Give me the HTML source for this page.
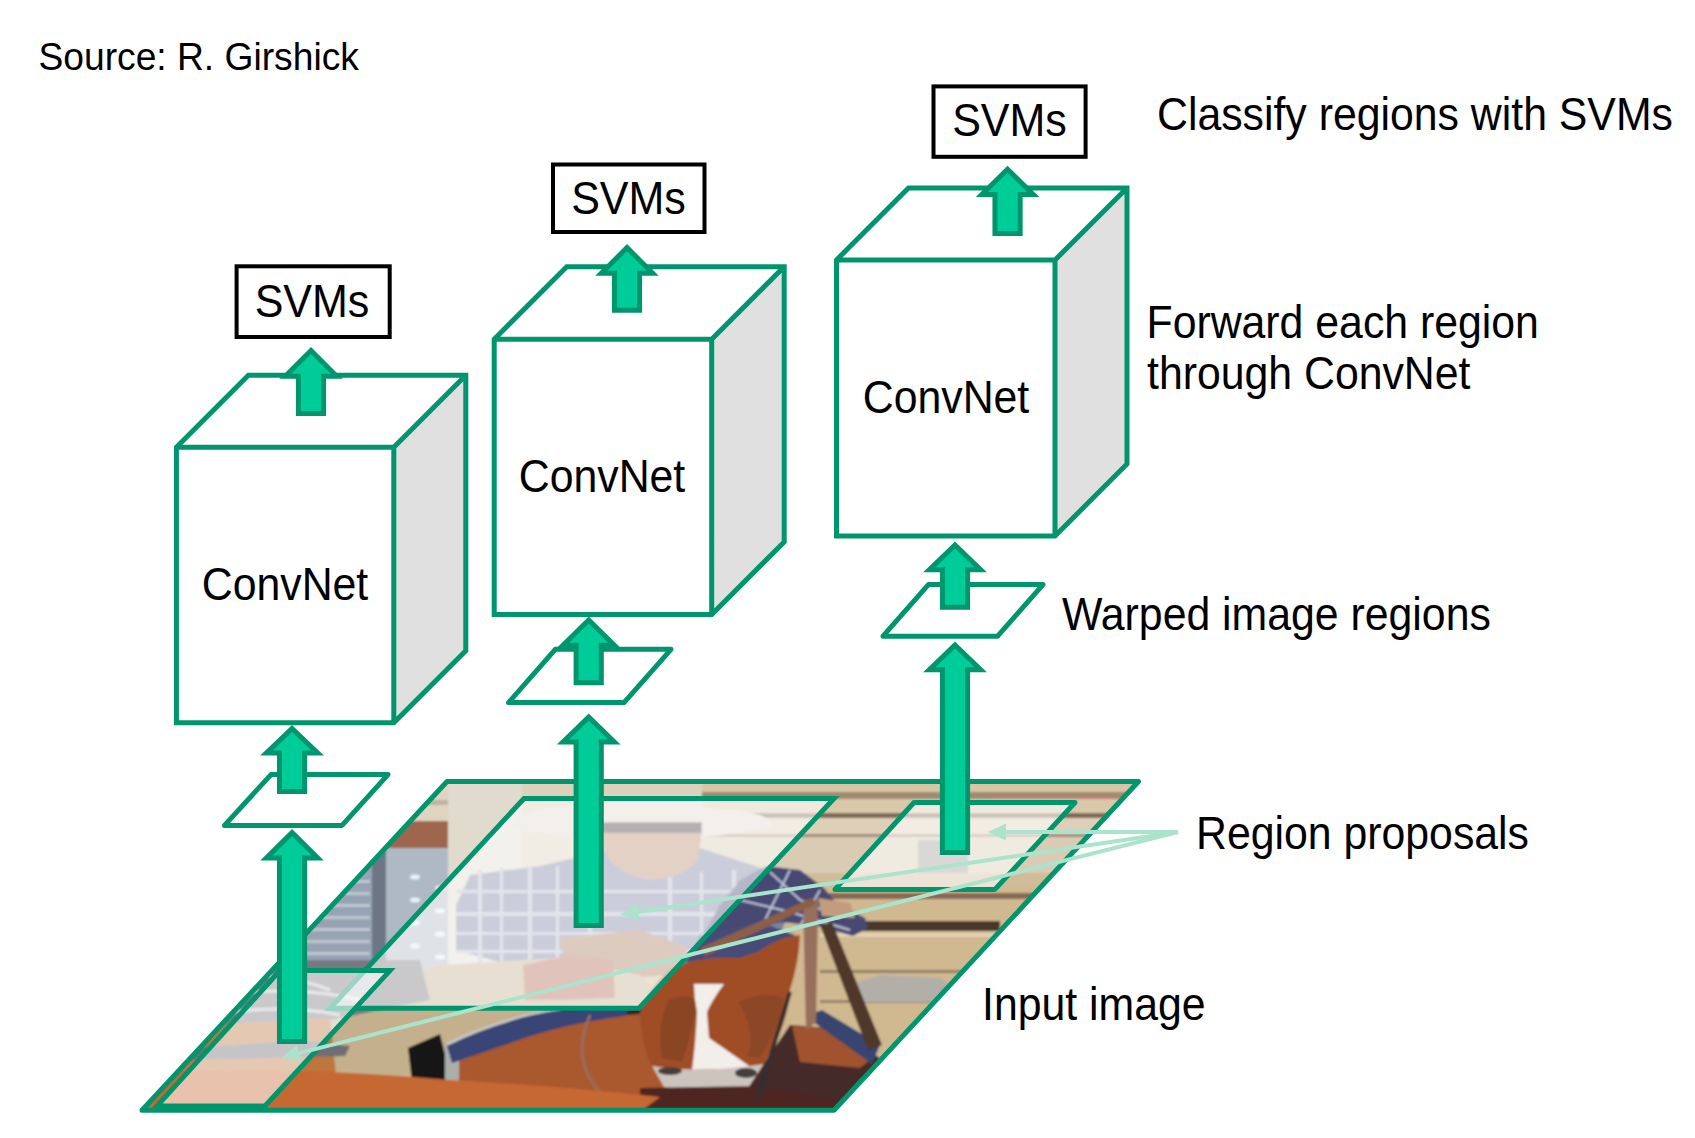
<!DOCTYPE html>
<html><head><meta charset="utf-8"><style>
html,body{margin:0;padding:0;background:#fff;overflow:hidden;}
svg{display:block;}
</style></head><body>
<svg width="1695" height="1138" viewBox="0 0 1695 1138">
<rect width="1695" height="1138" fill="#fff"/>
<defs><clipPath id="imgclip"><polygon points="447,781.5 1138.5,781.5 834,1110.3 142,1110.3"/></clipPath><filter id="soft" x="-5%" y="-5%" width="110%" height="110%"><feGaussianBlur stdDeviation="1.2"/></filter></defs>
<g clip-path="url(#imgclip)"><g filter="url(#soft)">
<rect x="140" y="780" width="1000" height="332" fill="rgb(208,184,144)"/>
<!-- fence bands right -->
<rect x="520" y="781" width="620" height="12" fill="rgb(214,198,166)"/>
<rect x="700" y="792" width="440" height="7" fill="rgb(160,138,112)"/>
<rect x="990" y="797" width="150" height="3" fill="rgb(200,120,110)"/>
<rect x="700" y="799" width="440" height="14" fill="rgb(218,200,170)"/>
<rect x="700" y="813" width="440" height="5" fill="rgb(125,105,85)"/>
<rect x="700" y="818" width="440" height="16" fill="rgb(222,208,184)"/>
<rect x="700" y="834" width="440" height="3" fill="rgb(160,140,120)"/>
<rect x="700" y="837" width="440" height="36" fill="rgb(218,204,180)"/>
<rect x="918" y="840" width="50" height="35" fill="rgb(160,158,155)"/>
<rect x="700" y="873" width="440" height="15" fill="rgb(208,188,152)"/>
<rect x="700" y="893" width="440" height="6" fill="rgb(135,105,85)"/>
<rect x="860" y="921" width="140" height="10" fill="rgb(70,55,42)"/>
<rect x="820" y="933" width="320" height="4" fill="rgb(228,210,180)"/>
<rect x="820" y="970" width="320" height="3" fill="rgb(145,128,105)"/>
<rect x="820" y="1000" width="320" height="3" fill="rgb(150,132,110)"/>
<polygon points="850,985 880,975 940,978 960,990 940,1002 860,1002" fill="rgb(178,175,168)"/>
<!-- left planks, brown band, gate -->
<rect x="140" y="781" width="308" height="40" fill="rgb(222,212,192)"/>
<rect x="140" y="800" width="308" height="5" fill="rgb(190,180,160)"/>
<rect x="140" y="821" width="308" height="27" fill="rgb(158,102,78)"/>
<rect x="140" y="848" width="308" height="160" fill="rgb(150,163,178)"/>
<g fill="rgb(190,200,210)"><rect x="140" y="880" width="230" height="3"/><rect x="140" y="892" width="230" height="3"/><rect x="140" y="904" width="230" height="3"/><rect x="140" y="916" width="230" height="3"/><rect x="140" y="928" width="230" height="3"/><rect x="140" y="940" width="230" height="3"/><rect x="140" y="952" width="230" height="3"/></g>
<rect x="372" y="848" width="14" height="160" fill="rgb(108,118,132)"/>
<rect x="386" y="848" width="62" height="160" fill="rgb(175,185,196)"/>
<g fill="rgb(235,240,245)"><ellipse cx="415" cy="877" rx="5" ry="2.5"/><ellipse cx="415" cy="900" rx="5" ry="2.5"/><ellipse cx="415" cy="923" rx="5" ry="2.5"/><ellipse cx="415" cy="946" rx="5" ry="2.5"/><ellipse cx="440" cy="888" rx="5" ry="2.5"/><ellipse cx="440" cy="911" rx="5" ry="2.5"/><ellipse cx="440" cy="934" rx="5" ry="2.5"/><ellipse cx="440" cy="957" rx="5" ry="2.5"/></g>
<!-- pole -->
<rect x="448" y="781" width="74" height="230" fill="rgb(224,219,205)"/>
<!-- center top planks behind cowboy -->
<rect x="522" y="781" width="180" height="90" fill="rgb(220,210,188)"/>
<!-- hat -->
<path d="M510,828 Q520,806 585,806 L590,796 L700,796 L705,808 Q770,810 772,826 Q700,842 640,838 Q560,840 510,828 Z" fill="rgb(225,218,206)"/>
<!-- shirt plaid -->
<polygon points="456,905 470,875 540,866 600,852 640,850 700,848 768,870 790,910 770,960 650,968 520,968 456,950" fill="rgb(125,130,162)"/>
<g fill="rgb(185,188,208)">
<rect x="478" y="870" width="4" height="95"/><rect x="500" y="868" width="3" height="97"/><rect x="528" y="868" width="4" height="97"/><rect x="556" y="866" width="3" height="99"/><rect x="588" y="866" width="4" height="99"/>
<rect x="668" y="872" width="4" height="93"/><rect x="700" y="872" width="3" height="93"/><rect x="732" y="870" width="4" height="95"/><rect x="758" y="870" width="3" height="95"/>
<rect x="456" y="890" width="320" height="3"/><rect x="456" y="912" width="320" height="4"/><rect x="456" y="932" width="320" height="3"/><rect x="456" y="950" width="320" height="3"/>
</g>
<!-- face -->
<path d="M603,830 L702,830 L698,860 Q680,880 650,880 Q615,874 603,850 Z" fill="rgb(185,140,112)"/>
<rect x="598" y="822" width="104" height="11" fill="rgb(70,60,60)"/>
<!-- dark arm (not whitened) -->
<polygon points="700,940 735,932 782,922 818,926 853,936 868,928 865,918 836,903 824,888 800,870 766,866 740,880 720,905" fill="rgb(70,74,115)"/>
<g stroke="rgb(190,195,215)" stroke-width="2" fill="none"><path d="M770,872 L800,900 L840,918"/><path d="M740,900 L790,912 L850,930"/><path d="M790,870 L760,930"/><path d="M820,890 L800,926"/></g>
<!-- hands & rope -->
<polygon points="560,938 640,930 690,948 670,975 600,980 565,965" fill="rgb(170,125,95)"/>
<polygon points="818,898 850,903 855,918 822,916" fill="rgb(195,155,125)"/>
<!-- saddle & pants tan -->
<polygon points="330,1008 380,985 440,965 560,958 640,975 660,1000 650,1010 560,1010 470,1040 420,1075 320,1075" fill="rgb(196,176,140)"/>
<polygon points="523,965 570,955 613,960 615,998 560,1000 525,1000" fill="rgb(178,108,84)"/>
<!-- gray streaky mane left -->
<polygon points="140,960 420,960 430,1000 330,1020 140,1030" fill="rgb(120,120,128)"/>
<g stroke="rgb(200,200,205)" stroke-width="3" fill="none"><path d="M200,975 Q280,970 330,990"/><path d="M220,995 Q300,985 360,1000"/><path d="M230,1012 Q290,1005 340,1015"/></g>
<!-- lower-left orange (whitened later) -->
<polygon points="140,1028 330,1018 340,1112 140,1112" fill="rgb(190,118,62)"/>
<polygon points="190,1048 300,1040 350,1046 345,1056 190,1060" fill="rgb(110,110,115)"/>
<!-- brown horse body center -->
<polygon points="455,1060 520,1030 600,1010 660,1010 700,1050 720,1112 455,1112" fill="rgb(170,88,45)"/>
<!-- black patch -->
<polygon points="408,1048 440,1034 452,1082 412,1082" fill="rgb(25,20,20)"/>
<rect x="445" y="1045" width="14" height="36" fill="rgb(170,175,170)"/>
<!-- navy pad -->
<path d="M455,1046 Q520,1013 560,1008 L660,1008 L640,1014 Q560,1018 470,1052 Z" fill="rgb(40,35,40)"/>
<path d="M447,1046 Q500,1020 560,1010 L630,1008 L625,1016 Q560,1024 505,1045 L452,1063 Z" fill="rgb(55,68,118)"/>
<path d="M447,1044 Q500,1018 560,1009" stroke="rgb(200,205,215)" stroke-width="2" fill="none"/>
<!-- reins left -->
<path d="M590,1015 Q570,1060 600,1092" stroke="rgb(150,110,90)" stroke-width="3" fill="none"/>
<!-- horse head -->
<polygon points="686,962 700,935 760,922 795,935 770,958" fill="rgb(70,76,120)"/>
<path d="M640,1012 Q650,985 672,968 Q700,955 740,958 L758,952 Q778,937 800,935 Q799,962 790,990 Q788,1025 765,1062 Q752,1086 706,1089 Q664,1085 652,1068 Q640,1040 640,1012 Z" fill="rgb(160,78,40)"/>
<path d="M668,1000 Q690,992 698,1002 Q690,1040 682,1062 L662,1058 Q656,1030 668,1000 Z" fill="rgb(138,68,36)"/>
<path d="M738,1002 Q765,990 784,998 Q778,1030 760,1058 L748,1056 Q756,1030 738,1002 Z" fill="rgb(140,70,38)"/>
<path d="M694,984 L724,984 Q712,1000 707,1012 L709,1038 Q735,1056 752,1068 L692,1070 Q696,1040 697,1012 Q694,998 694,984 Z" fill="rgb(242,238,234)"/>
<path d="M652,1066 Q700,1074 764,1064 Q760,1086 748,1089 Q700,1094 664,1087 Z" fill="rgb(205,196,190)"/>
<ellipse cx="670" cy="1071" rx="12" ry="4" fill="rgb(70,60,60)"/>
<ellipse cx="746" cy="1073" rx="11" ry="5" fill="rgb(70,60,60)"/>
<!-- dark neck right & bottom -->
<polygon points="765,1062 790,1025 830,1028 880,1058 890,1112 740,1112 748,1088" fill="rgb(68,44,42)"/>
<polygon points="792,1026 830,1028 875,1056 860,1068 800,1062" fill="rgb(160,82,46)"/>
<polygon points="640,1088 760,1086 840,1100 840,1112 640,1112" fill="rgb(78,40,34)"/>
<!-- navy pad right -->
<polygon points="805,1016 822,1010 880,1045 872,1064" fill="rgb(55,68,112)"/>
<!-- bridle -->
<path d="M790,992 Q775,1040 758,1100" stroke="rgb(50,45,50)" stroke-width="4" fill="none"/>
<!-- reins -->
<polygon points="803,900 818,900 816,1022 806,1030" fill="rgb(150,112,92)"/>
<polygon points="820,925 832,922 882,1045 868,1050" fill="rgb(80,55,42)"/>
<polygon points="700,948 812,898 816,904 705,956" fill="rgb(140,95,70)"/>
<!-- orange bottom band -->
<path d="M140,1072 Q300,1066 450,1080 Q560,1086 660,1097 L640,1112 L140,1112 Z" fill="rgb(198,104,50)"/>
</g>
</g>
<polygon points="524,798.5 834,798.5 639,1008.3 330,1008.3" fill="rgba(255,255,255,0.6)" stroke="#00956D" stroke-width="5" stroke-linejoin="miter"/>
<polygon points="280,970.6 390,970.6 265,1106 157,1106" fill="rgba(255,255,255,0.6)" stroke="#00956D" stroke-width="5" stroke-linejoin="miter"/>
<polygon points="914,802.5 1075,802.5 995,889.4 835,889.4" fill="rgba(255,255,255,0.6)" stroke="#00956D" stroke-width="5" stroke-linejoin="round"/>
<polygon points="447,781.5 1138.5,781.5 834,1110.3 142,1110.3" fill="none" stroke="#00956D" stroke-width="5" stroke-linejoin="round"/>
<line x1="1178" y1="832" x2="1004.0" y2="832.0" stroke="#ABE3CC" stroke-width="4"/><polygon points="988,832 1006.0,840.5 1006.0,823.5" fill="#ABE3CC"/>
<line x1="1178" y1="832" x2="636.3" y2="912.2" stroke="#ABE3CC" stroke-width="4"/><polygon points="620.5,914.5 639.6,920.3 637.1,903.5" fill="#ABE3CC"/>
<line x1="1178" y1="832" x2="297.0" y2="1053.6" stroke="#ABE3CC" stroke-width="4"/><polygon points="281.5,1057.5 301.0,1061.4 296.9,1044.9" fill="#ABE3CC"/>
<path d="M292.05,832.6 L317.75,858 L304.65000000000003,858 L304.65000000000003,1041.6 L279.45,1041.6 L279.45,858 L266.35,858 Z" fill="#00CC99" stroke="#00956D" stroke-width="5" stroke-miterlimit="10"/>
<path d="M588.7,717.1 L614.4000000000001,742 L601.3000000000001,742 L601.3000000000001,925.5 L576.1,925.5 L576.1,742 L563.0,742 Z" fill="#00CC99" stroke="#00956D" stroke-width="5" stroke-miterlimit="10"/>
<path d="M955,645 L980.7,669.7 L967.6,669.7 L967.6,852.6 L942.4,852.6 L942.4,669.7 L929.3,669.7 Z" fill="#00CC99" stroke="#00956D" stroke-width="5" stroke-miterlimit="10"/>
<polygon points="271,774.6 388,774.6 342,825.4 224.5,825.4" fill="#fff" stroke="#00956D" stroke-width="5" stroke-linejoin="round"/>
<polygon points="555.3,649.3 671,649.3 624,702.6 508.5,702.6" fill="#fff" stroke="#00956D" stroke-width="5" stroke-linejoin="round"/>
<polygon points="928.4,584.6 1043,584.6 997.6,636.2 883,636.2" fill="#fff" stroke="#00956D" stroke-width="5" stroke-linejoin="round"/>
<path d="M292.05,728.5 L317.75,753.1 L304.65000000000003,753.1 L304.65000000000003,791.5 L279.45,791.5 L279.45,753.1 L266.35,753.1 Z" fill="#00CC99" stroke="#00956D" stroke-width="5" stroke-miterlimit="10"/>
<path d="M588.7,620 L614.4000000000001,645.3 L601.3000000000001,645.3 L601.3000000000001,682.7 L576.1,682.7 L576.1,645.3 L563.0,645.3 Z" fill="#00CC99" stroke="#00956D" stroke-width="5" stroke-miterlimit="10"/>
<path d="M955,545 L980.7,569.8 L967.6,569.8 L967.6,607.3 L942.4,607.3 L942.4,569.8 L929.3,569.8 Z" fill="#00CC99" stroke="#00956D" stroke-width="5" stroke-miterlimit="10"/>
<polygon points="393.8,447.2 465.8,375.2 465.8,650.7 393.8,722.7" fill="#E0E0E0"/><polygon points="176.4,447.2 248.4,375.2 465.8,375.2 393.8,447.2" fill="#FFFFFF"/><rect x="176.4" y="447.2" width="217.4" height="275.5" fill="#FFFFFF"/><path d="M176.4,447.2 L248.4,375.2 L465.8,375.2 L465.8,650.7 L393.8,722.7 L176.4,722.7 Z M176.4,447.2 L393.8,447.2 L465.8,375.2 M393.8,447.2 L393.8,722.7" fill="none" stroke="#00956D" stroke-width="5" stroke-linejoin="miter"/>
<polygon points="711.7,339.2 784.2,266.7 784.2,541.9 711.7,614.4" fill="#E0E0E0"/><polygon points="494.2,339.2 566.7,266.7 784.2,266.7 711.7,339.2" fill="#FFFFFF"/><rect x="494.2" y="339.2" width="217.5" height="275.2" fill="#FFFFFF"/><path d="M494.2,339.2 L566.7,266.7 L784.2,266.7 L784.2,541.9 L711.7,614.4 L494.2,614.4 Z M494.2,339.2 L711.7,339.2 L784.2,266.7 M711.7,339.2 L711.7,614.4" fill="none" stroke="#00956D" stroke-width="5" stroke-linejoin="miter"/>
<polygon points="1055.0,260 1127.0,188 1127.0,464 1055.0,536" fill="#E0E0E0"/><polygon points="836.5,260 908.5,188 1127.0,188 1055.0,260" fill="#FFFFFF"/><rect x="836.5" y="260" width="218.5" height="276" fill="#FFFFFF"/><path d="M836.5,260 L908.5,188 L1127.0,188 L1127.0,464 L1055.0,536 L836.5,536 Z M836.5,260 L1055.0,260 L1127.0,188 M1055.0,260 L1055.0,536" fill="none" stroke="#00956D" stroke-width="5" stroke-linejoin="miter"/>
<path d="M311,350.6 L336.7,376.3 L323.6,376.3 L323.6,413.4 L298.4,413.4 L298.4,376.3 L285.3,376.3 Z" fill="#00CC99" stroke="#00956D" stroke-width="5" stroke-miterlimit="10"/>
<path d="M627,247.6 L652.7,273.2 L639.6,273.2 L639.6,310.3 L614.4,310.3 L614.4,273.2 L601.3,273.2 Z" fill="#00CC99" stroke="#00956D" stroke-width="5" stroke-miterlimit="10"/>
<path d="M1007.55,169.3 L1033.25,194.5 L1020.15,194.5 L1020.15,233.4 L994.9499999999999,233.4 L994.9499999999999,194.5 L981.8499999999999,194.5 Z" fill="#00CC99" stroke="#00956D" stroke-width="5" stroke-miterlimit="10"/>
<rect x="236.6" y="266.3" width="153.1" height="70.69999999999999" fill="#fff" stroke="#000" stroke-width="4"/>
<rect x="553" y="164.5" width="151.5" height="67.5" fill="#fff" stroke="#000" stroke-width="4"/>
<rect x="933.5" y="86.4" width="152.0999999999999" height="70.4" fill="#fff" stroke="#000" stroke-width="4"/>
<g font-family="Liberation Sans, sans-serif" fill="#000"><text transform="translate(38.5,70) scale(1,1.066)" font-size="37.2" text-anchor="start">Source: R. Girshick</text><text transform="translate(312,317) scale(1,1.066)" font-size="43" text-anchor="middle">SVMs</text><text transform="translate(628.5,214.4) scale(1,1.066)" font-size="43" text-anchor="middle">SVMs</text><text transform="translate(1009.5,136.3) scale(1,1.066)" font-size="43" text-anchor="middle">SVMs</text><text transform="translate(285,600) scale(1,1.066)" font-size="42.8" text-anchor="middle">ConvNet</text><text transform="translate(602,492) scale(1,1.066)" font-size="42.8" text-anchor="middle">ConvNet</text><text transform="translate(946,413) scale(1,1.066)" font-size="42.8" text-anchor="middle">ConvNet</text><text transform="translate(1157,130) scale(1,1.066)" font-size="42.8" text-anchor="start">Classify regions with SVMs</text><text transform="translate(1146.5,338) scale(1,1.066)" font-size="42.8" text-anchor="start">Forward each region</text><text transform="translate(1147,389) scale(1,1.066)" font-size="42.8" text-anchor="start">through ConvNet</text><text transform="translate(1062,630) scale(1,1.066)" font-size="42.8" text-anchor="start">Warped image regions</text><text transform="translate(1196,849) scale(1,1.066)" font-size="42.8" text-anchor="start">Region proposals</text><text transform="translate(982,1020) scale(1,1.066)" font-size="42.8" text-anchor="start">Input image</text></g>

</svg></body></html>
